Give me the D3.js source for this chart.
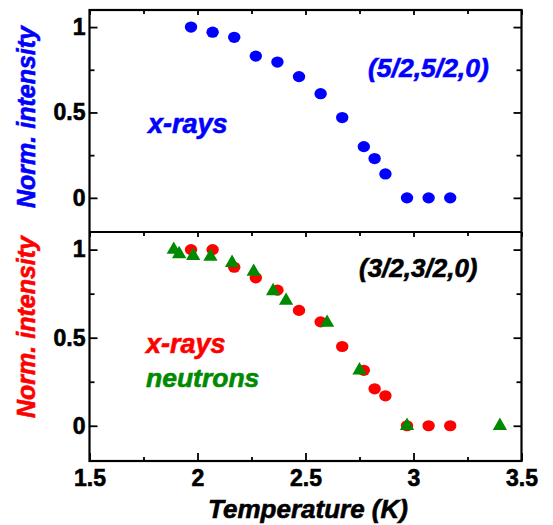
<!DOCTYPE html>
<html>
<head>
<meta charset="utf-8">
<script src="https://cdn.jsdelivr.net/npm/d3@7"></script>
<style>
	body { margin: 0; background: #fff; }
	text { font-family: "Liberation Sans", Arial, sans-serif; font-weight: bold; stroke-width: 0.6; }
	.axis path { display: none; }
	.axis line { stroke: #000; stroke-width: 1.8; }
	.axis text { font-size: 23px; fill: #000; stroke: #000; }
</style>
</head>
<body>
<svg class="chart"></svg>
<script>

// Data:

var tempXray = [1.97, 2.07, 2.17, 2.27, 2.37, 2.47, 2.57, 2.67, 2.77, 2.82, 2.87, 2.97, 3.07, 3.17];
var intXray552 = [1.0, 0.97, 0.94, 0.83, 0.795, 0.71, 0.61, 0.47, 0.30, 0.23, 0.14, 0, 0, 0];
var intXray332 = [1.0, 1.0, 0.90, 0.84, 0.77, 0.655, 0.59, 0.45, 0.315, 0.21, 0.17, 0, 0, 0];
var tempNeutron = [1.89, 1.915, 1.98, 2.06, 2.16, 2.26, 2.35, 2.41, 2.60, 2.75, 2.97, 3.40];
var intNeutron = [1.0, 0.975, 0.965, 0.96, 0.925, 0.875, 0.765, 0.71, 0.585, 0.315, 0, 0];

var xMajor = [1.5, 2, 2.5, 3, 3.5],
	xMinor = [1.75, 2.25, 2.75, 3.25],
	yMajor = [0, 0.5, 1],
	yMinor = [0.25, 0.75];

// Basic dimensions:

var width = 553,
	height = 525,
	plotLeft = 89.5,
	plotRight = 521.5,
	plotTop = 10,
	plotMid = 232,
	plotBottom = 461;

var blue = "#0000ff",
	red = "#ff0000",
	green = "#008a00";

var chart = d3.select(".chart")
	.attr("width", width)
	.attr("height", height);

chart.append("rect")
	.attr("width", width)
	.attr("height", height)
	.style("fill", "#fff");

// Scales: 

var x = d3.scaleLinear().domain([1.5, 3.5]).range([plotLeft, plotRight]);
var yTop = d3.scaleLinear().domain([-0.2, 1.1]).range([plotMid, plotTop]);
var yBot = d3.scaleLinear().domain([-0.2, 1.1]).range([plotBottom, plotMid]);

// Ticks on every side, pointing inward:

function addAxis(axis, tx, ty) {
	chart.append("g")
		.attr("class", "axis")
		.attr("transform", "translate(" + tx + "," + ty + ")")
		.call(axis);
}

addAxis(d3.axisBottom(x).tickValues(xMajor).tickSize(-8).tickPadding(9).tickFormat(d3.format("")), 0, plotBottom);
addAxis(d3.axisBottom(x).tickValues(xMinor).tickSize(-4).tickFormat(""), 0, plotBottom);
addAxis(d3.axisTop(x).tickValues(xMajor).tickSize(-5).tickFormat(""), 0, plotTop);
addAxis(d3.axisTop(x).tickValues(xMinor).tickSize(-4).tickFormat(""), 0, plotTop);
addAxis(d3.axisTop(x).tickValues(xMajor).tickSize(-5).tickFormat(""), 0, plotMid);
addAxis(d3.axisTop(x).tickValues(xMinor).tickSize(-4).tickFormat(""), 0, plotMid);

[yTop, yBot].forEach(function(y) {
	addAxis(d3.axisLeft(y).tickValues(yMajor).tickSize(-8).tickPadding(4).tickFormat(d3.format("")), plotLeft, 0);
	addAxis(d3.axisLeft(y).tickValues(yMinor).tickSize(-5).tickFormat(""), plotLeft, 0);
	addAxis(d3.axisRight(y).tickValues(yMajor).tickSize(-8).tickFormat(""), plotRight, 0);
	addAxis(d3.axisRight(y).tickValues(yMinor).tickSize(-5).tickFormat(""), plotRight, 0);
});

// Frame and divider:

chart.append("rect")
	.attr("x", plotLeft)
	.attr("y", plotTop)
	.attr("width", plotRight - plotLeft)
	.attr("height", plotBottom - plotTop)
	.style("fill", "none")
	.style("stroke", "#000")
	.style("stroke-width", 2.2);

chart.append("line")
	.attr("x1", plotLeft)
	.attr("x2", plotRight)
	.attr("y1", plotMid)
	.attr("y2", plotMid)
	.style("stroke", "#000")
	.style("stroke-width", 2.2);

// Points:

chart.selectAll(".dotTop")
	.data(tempXray)
.enter().append("ellipse")
	.attr("cx", function(d) { return x(d); })
	.attr("cy", function(d, i) { return yTop(intXray552[i]); })
	.attr("rx", 6.2)
	.attr("ry", 5.6)
	.style("fill", blue);

chart.selectAll(".dotBot")
	.data(tempXray)
.enter().append("ellipse")
	.attr("cx", function(d) { return x(d); })
	.attr("cy", function(d, i) { return yBot(intXray332[i]); })
	.attr("rx", 6.2)
	.attr("ry", 5.6)
	.style("fill", red);

chart.selectAll(".tri")
	.data(tempNeutron)
.enter().append("path")
	.attr("d", d3.symbol().type(d3.symbolTriangle).size(88))
	.attr("transform", function(d, i) { return "translate(" + x(d) + "," + yBot(intNeutron[i]) + ")"; })
	.style("fill", green);

// Labels:

function label(txt, tx, ty, size, color, anchor, rot) {
	chart.append("text")
		.attr("transform", "translate(" + tx + "," + ty + ")" + (rot ? " rotate(" + rot + ")" : ""))
		.style("font-size", size + "px")
		.style("font-style", "italic")
		.style("fill", color)
		.style("stroke", color)
		.style("text-anchor", anchor || "start")
		.text(txt);
}

label("Norm. intensity", 35, 117, 25, blue, "middle", -90);
label("Norm. intensity", 35, 327, 25, red, "middle", -90);
label("Temperature (K)", 308, 518, 26, "#000", "middle");

label("(5/2,5/2,0)", 368, 77, 26.5, blue);
label("x-rays", 148, 133, 27, blue);
label("(3/2,3/2,0)", 359, 277, 26, "#000");
label("x-rays", 146, 353, 27, red);
label("neutrons", 146, 387, 26.5, green);

</script>
</body>
</html>
